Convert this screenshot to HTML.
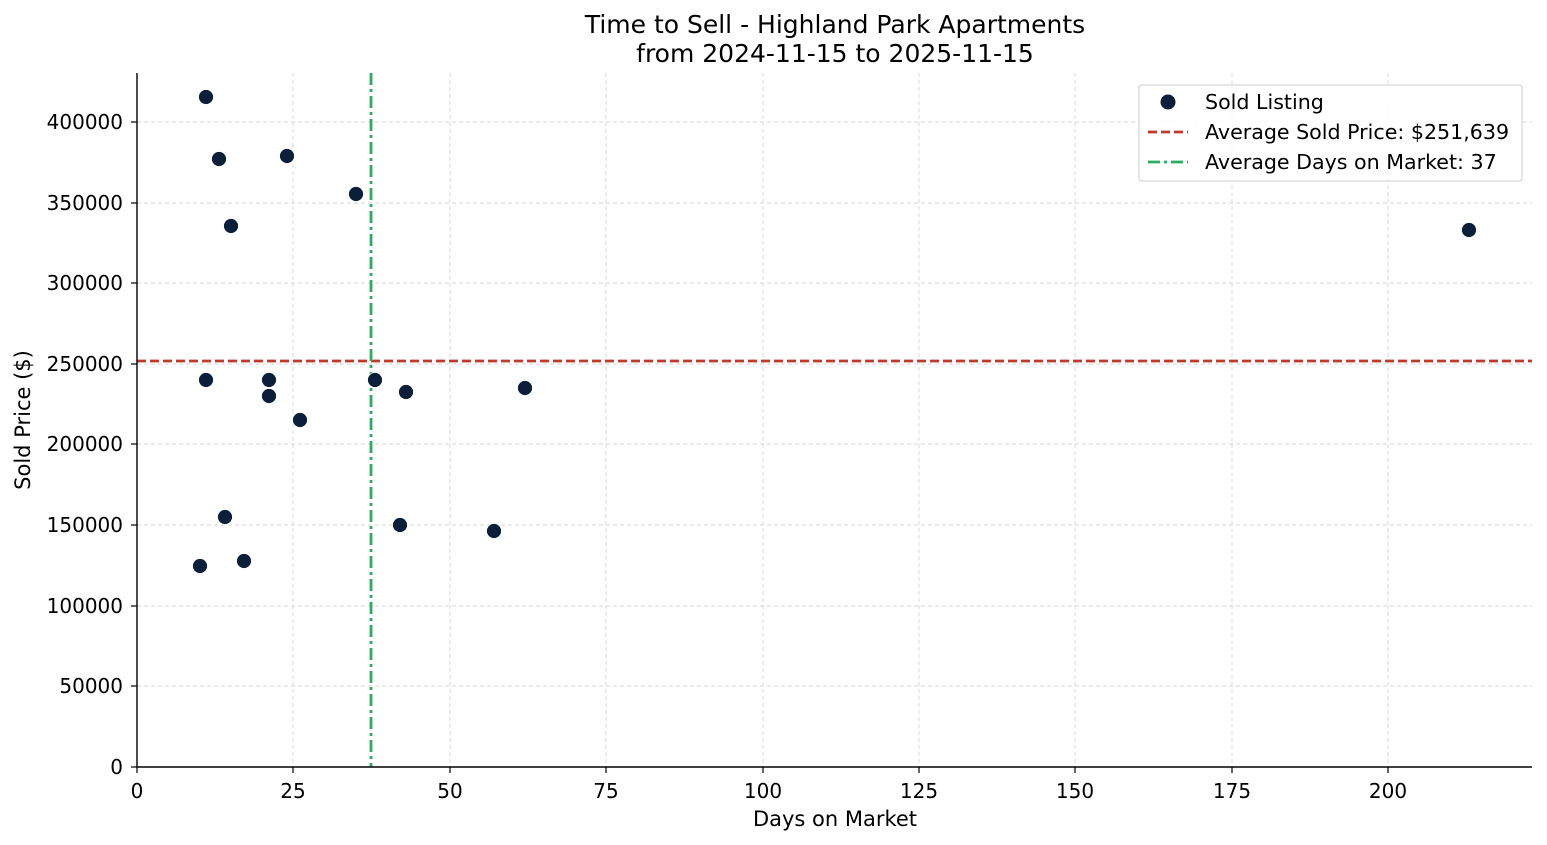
<!DOCTYPE html>
<html><head><meta charset="utf-8"><style>
html,body{margin:0;padding:0;background:#fff;}
svg{display:block;font-family:"DejaVu Sans","Liberation Sans",sans-serif;}
</style></head><body>
<svg width="1547" height="845" viewBox="0 0 1547 845" xmlns="http://www.w3.org/2000/svg">
<rect width="1547" height="845" fill="#fff"/>
<g stroke="#d6d6d6" stroke-width="0.9" stroke-dasharray="4,3">
<line x1="293" y1="73" x2="293" y2="767"/><line x1="450" y1="73" x2="450" y2="767"/>
<line x1="606" y1="73" x2="606" y2="767"/><line x1="763" y1="73" x2="763" y2="767"/>
<line x1="919" y1="73" x2="919" y2="767"/><line x1="1075" y1="73" x2="1075" y2="767"/>
<line x1="1232" y1="73" x2="1232" y2="767"/><line x1="1388" y1="73" x2="1388" y2="767"/>
<line x1="137" y1="686" x2="1532" y2="686"/><line x1="137" y1="606" x2="1532" y2="606"/>
<line x1="137" y1="525" x2="1532" y2="525"/><line x1="137" y1="444" x2="1532" y2="444"/>
<line x1="137" y1="364" x2="1532" y2="364"/><line x1="137" y1="283" x2="1532" y2="283"/>
<line x1="137" y1="203" x2="1532" y2="203"/><line x1="137" y1="122" x2="1532" y2="122"/>
</g>
<line x1="137" y1="361" x2="1532" y2="361" stroke="#c0392b" stroke-width="2.8" stroke-dasharray="9,4"/>
<line x1="371" y1="73" x2="371" y2="767" stroke="#27ae60" stroke-width="2.8" stroke-dasharray="12,4,3,4"/>
<g fill="#0b1f3a" stroke="#fff" stroke-width="0.8">
<circle cx="206" cy="97" r="7.5"/><circle cx="219" cy="159" r="7.5"/><circle cx="287" cy="156" r="7.5"/>
<circle cx="231" cy="226" r="7.5"/><circle cx="356" cy="194" r="7.5"/><circle cx="1469" cy="230" r="7.5"/>
<circle cx="206" cy="380" r="7.5"/><circle cx="269" cy="380" r="7.5"/><circle cx="269" cy="396" r="7.5"/>
<circle cx="300" cy="420" r="7.5"/><circle cx="375" cy="380" r="7.5"/><circle cx="406" cy="392" r="7.5"/>
<circle cx="525" cy="388" r="7.5"/><circle cx="225" cy="517" r="7.5"/><circle cx="400" cy="525" r="7.5"/>
<circle cx="494" cy="531" r="7.5"/><circle cx="200" cy="566" r="7.5"/><circle cx="244" cy="561" r="7.5"/>
</g>
<line x1="137" y1="73" x2="137" y2="767" stroke="#000" stroke-width="1.4"/>
<line x1="137" y1="767" x2="1532" y2="767" stroke="#000" stroke-width="1.4"/>
<g stroke="#000" stroke-width="1.2">
<line x1="137" y1="767" x2="137" y2="773"/><line x1="293" y1="767" x2="293" y2="773"/><line x1="450" y1="767" x2="450" y2="773"/><line x1="606" y1="767" x2="606" y2="773"/><line x1="763" y1="767" x2="763" y2="773"/><line x1="919" y1="767" x2="919" y2="773"/><line x1="1075" y1="767" x2="1075" y2="773"/><line x1="1232" y1="767" x2="1232" y2="773"/><line x1="1388" y1="767" x2="1388" y2="773"/>
<line x1="131" y1="767" x2="137" y2="767"/><line x1="131" y1="686" x2="137" y2="686"/><line x1="131" y1="606" x2="137" y2="606"/><line x1="131" y1="525" x2="137" y2="525"/><line x1="131" y1="444" x2="137" y2="444"/><line x1="131" y1="364" x2="137" y2="364"/><line x1="131" y1="283" x2="137" y2="283"/><line x1="131" y1="203" x2="137" y2="203"/><line x1="131" y1="122" x2="137" y2="122"/>
</g>
<g font-size="20" fill="#000" text-anchor="middle">
<text x="137" y="798">0</text><text x="293" y="798">25</text><text x="450" y="798">50</text><text x="606" y="798">75</text><text x="763" y="798">100</text><text x="919" y="798">125</text><text x="1075" y="798">150</text><text x="1232" y="798">175</text><text x="1388" y="798">200</text>
</g>
<g font-size="20" fill="#000" text-anchor="end">
<text x="123" y="774">0</text><text x="123" y="693">50000</text><text x="123" y="613">100000</text><text x="123" y="532">150000</text><text x="123" y="451">200000</text><text x="123" y="371">250000</text><text x="123" y="290">300000</text><text x="123" y="210">350000</text><text x="123" y="129">400000</text>
</g>
<text x="835" y="826" font-size="21" text-anchor="middle">Days on Market</text>
<text transform="translate(30,420) rotate(-90)" font-size="21" text-anchor="middle">Sold Price ($)</text>
<text x="835" y="33" font-size="25" text-anchor="middle">Time to Sell - Highland Park Apartments</text>
<text x="835" y="62" font-size="25" text-anchor="middle">from 2024-11-15 to 2025-11-15</text>
<rect x="1139" y="85" width="383" height="96" rx="3" fill="#fff" fill-opacity="0.85" stroke="#ccc" stroke-width="1"/>
<circle cx="1168" cy="102" r="7.5" fill="#0b1f3a"/>
<line x1="1148" y1="132" x2="1188" y2="132" stroke="#c0392b" stroke-width="2.8" stroke-dasharray="9,4"/>
<line x1="1148" y1="162" x2="1188" y2="162" stroke="#27ae60" stroke-width="2.8" stroke-dasharray="12,4,3,4"/>
<g font-size="20.6" fill="#000">
<text x="1205" y="109">Sold Listing</text>
<text x="1205" y="139">Average Sold Price: $251,639</text>
<text x="1205" y="169">Average Days on Market: 37</text>
</g>
</svg>
</body></html>
